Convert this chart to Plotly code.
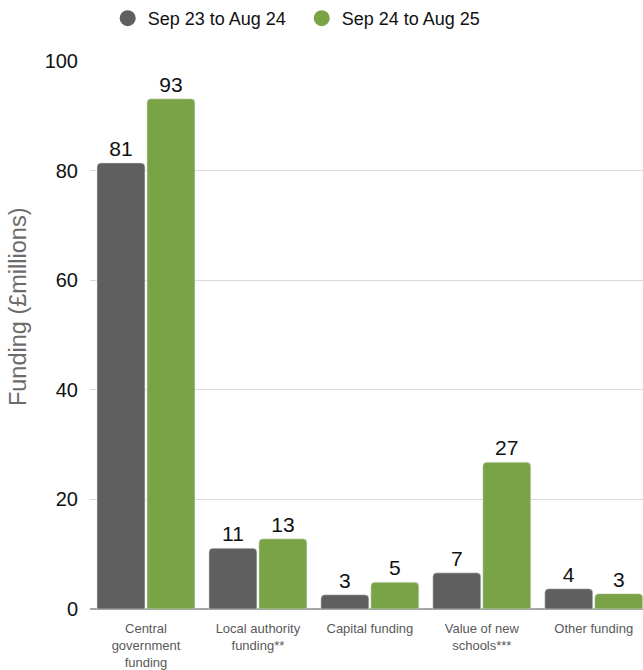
import plotly.graph_objects as go

categories = ["Central<br>government<br>funding", "Local authority<br>funding**", "Capital funding",
              "Value of new<br>schools***", "Other funding"]
series_names = ["Sep 23 to Aug 24", "Sep 24 to Aug 25"]
values_2324 = [81.4, 11.1, 2.6, 6.6, 3.7]
values_2425 = [93.1, 12.8, 4.9, 26.8, 2.8]
y_ticks = [0, 20, 40, 60, 80, 100]
y_title = "Funding (£millions)"

colors = ["#5f5f5f", "#79a344"]
font = "Liberation Sans, Arial, sans-serif"

fig = go.Figure()
for name, vals, col in zip(series_names, [values_2324, values_2425], colors):
    fig.add_trace(go.Bar(
        x=categories, y=vals, name=name, marker_color=col, showlegend=False,
        texttemplate="%{y:.0f}", textposition="outside", cliponaxis=False,
        textfont=dict(size=21, color="#111111", family=font),
    ))
for name, col in zip(series_names, colors):
    fig.add_trace(go.Scatter(
        x=[None], y=[None], mode="markers", name=name,
        marker=dict(symbol="circle", size=20, color=col),
    ))

fig.update_layout(
    width=643, height=670,
    margin=dict(l=90, r=0, t=61, b=61),
    paper_bgcolor="white", plot_bgcolor="white",
    font=dict(family=font),
    barmode="group", bargap=0.107, bargroupgap=0.04, barcornerradius=4,
    legend=dict(orientation="h", xref="container", x=0.1675, xanchor="left",
                yref="container", y=1.0, yanchor="top",
                font=dict(size=18, color="#111111"), itemwidth=30,
                entrywidth=149, entrywidthmode="pixels",
                traceorder="normal"),
    annotations=[dict(text=y_title, textangle=-90, xref="paper", yref="paper",
                      x=0, xshift=-72, xanchor="center", y=0.551, yanchor="middle",
                      showarrow=False, font=dict(size=23.5, color="#6b6b6b"))],
)
fig.update_xaxes(range=[-0.5, 4.44], tickfont=dict(size=13, color="#595959"),
                 showgrid=False, showline=False, ticks="", ticklabelstandoff=10)
fig.update_yaxes(range=[0, 100], tickvals=y_ticks, tickfont=dict(size=20, color="#111111"),
                 showgrid=True, gridcolor="#d9d9d9", gridwidth=1,
                 zeroline=True, zerolinecolor="#a6a6a6", zerolinewidth=1.5,
                 ticklabelstandoff=11)

fig.write_html("out.html")
